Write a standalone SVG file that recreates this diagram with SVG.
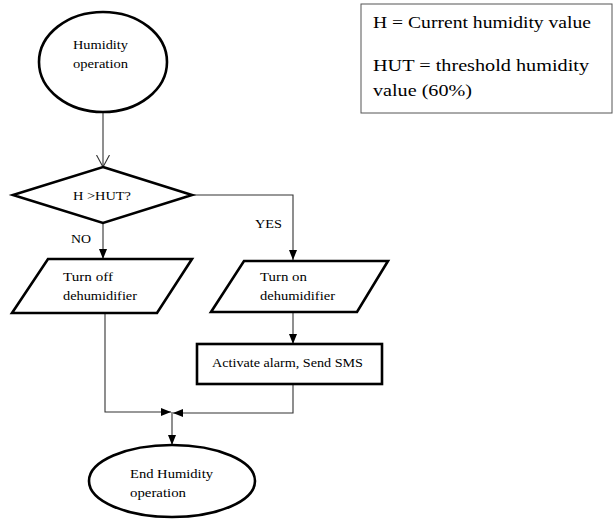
<svg xmlns="http://www.w3.org/2000/svg" width="613" height="521" viewBox="0 0 613 521">
<style>
.node{fill:#fff;stroke:#000;stroke-width:2.6}
.c{fill:none;stroke:#333;stroke-width:1.1}
text{font-family:'Liberation Serif','Times New Roman','DejaVu Serif',serif;fill:#000}
.t{font-size:13.5px}
.lg{font-size:17.5px}
</style>
<defs>
<marker id="ah" viewBox="0 0 10 10" refX="10" refY="5" markerWidth="10" markerHeight="10" markerUnits="userSpaceOnUse" orient="auto">
<path d="M0,1 L10,5 L0,9 Z" fill="#000"/>
</marker>
<marker id="open" viewBox="0 0 12 14" refX="12" refY="7" markerWidth="12" markerHeight="14" markerUnits="userSpaceOnUse" orient="auto">
<path d="M0,0.5 L12,7 L0,13.5" fill="none" stroke="#333" stroke-width="1.1"/>
</marker>
</defs>
<rect width="613" height="521" fill="#fff"/>
<g id="legend">
<rect x="361" y="4" width="251" height="109" fill="#fff" stroke="#555" stroke-width="1"/>
<text class="lg" x="373" y="28" textLength="218" lengthAdjust="spacingAndGlyphs">H = Current humidity value</text>
<text class="lg" x="373" y="71" textLength="216" lengthAdjust="spacingAndGlyphs">HUT = threshold humidity</text>
<text class="lg" x="373" y="96" textLength="99" lengthAdjust="spacingAndGlyphs">value (60%)</text>
</g>
<g id="connectors">
<path class="c" d="M103,112 V167" marker-end="url(#open)"/>
<path class="c" d="M103,223 V259" marker-end="url(#ah)"/>
<path class="c" d="M192,195 H293 V260" marker-end="url(#ah)"/>
<path class="c" d="M293,312 V344" marker-end="url(#ah)"/>
<path class="c" d="M105,313 V412 H171" marker-end="url(#ah)"/>
<path class="c" d="M293,385 V413 H173" marker-end="url(#ah)"/>
<path class="c" d="M172,412 V445" marker-end="url(#ah)"/>
<text class="t" x="255" y="228" textLength="27" lengthAdjust="spacingAndGlyphs">YES</text>
<text class="t" x="71" y="243" textLength="20" lengthAdjust="spacingAndGlyphs">NO</text>
</g>
<g id="start">
<ellipse class="node" cx="103" cy="62" rx="64" ry="50"/>
<text class="t" x="73" y="49" textLength="55" lengthAdjust="spacingAndGlyphs">Humidity</text>
<text class="t" x="73" y="68" textLength="55" lengthAdjust="spacingAndGlyphs">operation</text>
</g>
<g id="decision">
<polygon class="node" points="103,167 192,195 103,223 13,195"/>
<text class="t" x="73" y="200" textLength="58" lengthAdjust="spacingAndGlyphs">H &gt;HUT?</text>
</g>
<g id="turn-off">
<polygon class="node" points="48,259 192,259 157,313 12,313"/>
<text class="t" x="63" y="281" textLength="50" lengthAdjust="spacingAndGlyphs">Turn off</text>
<text class="t" x="63" y="300" textLength="74" lengthAdjust="spacingAndGlyphs">dehumidifier</text>
</g>
<g id="turn-on">
<polygon class="node" points="244,261 388,261 357,312 211,312"/>
<text class="t" x="260" y="281" textLength="47" lengthAdjust="spacingAndGlyphs">Turn on</text>
<text class="t" x="260" y="300" textLength="75" lengthAdjust="spacingAndGlyphs">dehumidifier</text>
</g>
<g id="alarm">
<rect class="node" x="197" y="344" width="185" height="40"/>
<text class="t" x="212" y="367" textLength="151" lengthAdjust="spacingAndGlyphs">Activate alarm, Send SMS</text>
</g>
<g id="end">
<ellipse class="node" cx="172" cy="481" rx="83" ry="36"/>
<text class="t" x="130" y="478" textLength="83" lengthAdjust="spacingAndGlyphs">End Humidity</text>
<text class="t" x="130" y="497" textLength="56" lengthAdjust="spacingAndGlyphs">operation</text>
</g>
</svg>
